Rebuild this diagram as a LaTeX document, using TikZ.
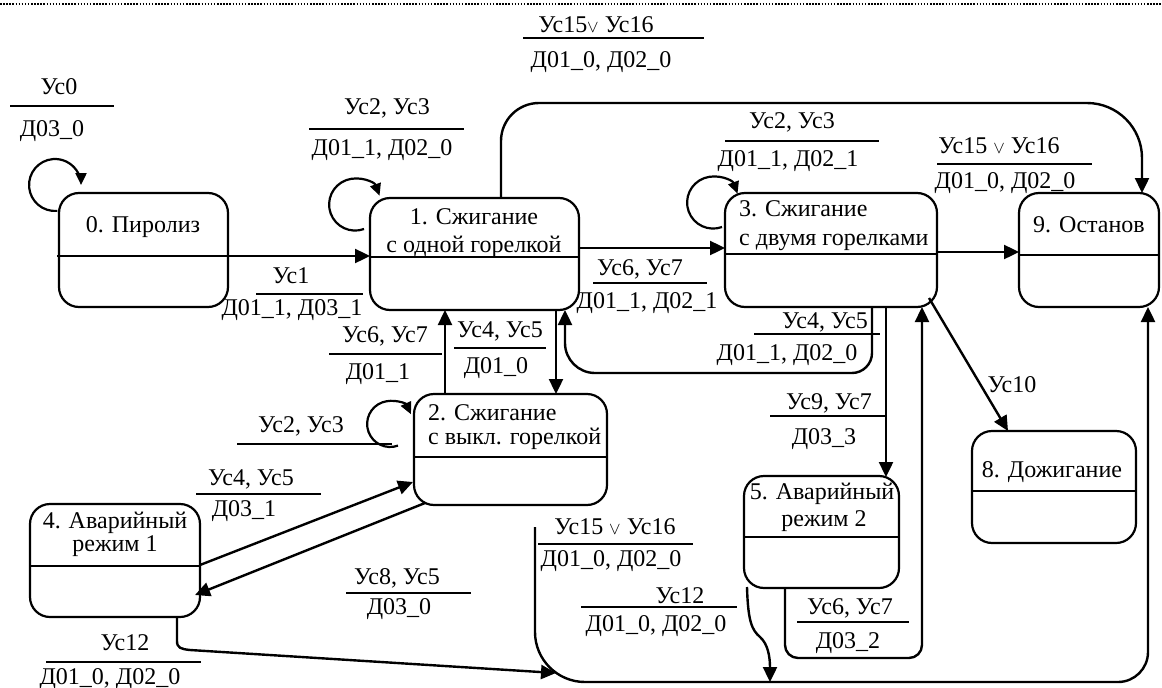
\documentclass[tikz,border=0pt]{standalone}
\usepackage{fontspec}
\setmainfont{Liberation Serif}
\usetikzlibrary{arrows.meta,calc}
\newcommand{\myor}{{\fontsize{19}{19}\selectfont$\vee$}}
\begin{document}
\begin{tikzpicture}[x=1pt,y=-1pt,
  box/.style={draw, line width=2.2pt, rounded corners=20pt, inner sep=0pt, outer sep=0pt},
  div/.style={line width=2.2pt},
  con/.style={line width=2.4pt, -{Triangle[length=15pt,width=14pt]}},
  lp/.style={line width=2.2pt, -{Triangle[length=12pt,width=11pt]}},
  rule/.style={line width=1.3pt},
  lab/.style={inner sep=0pt, anchor=base, font=\fontsize{24}{28}\selectfont},
  labw/.style={lab, anchor=base west}]
\useasboundingbox (0,0) rectangle (1162,688);
\draw[line width=1.5pt, dash pattern=on 1.5pt off 1.6pt] (0,4) -- (1162,4);

% states
\node[box, minimum width=169pt, minimum height=114pt] (n0) at (143.5,250) {};
\node[box, minimum width=209pt, minimum height=112pt] (n1) at (474.5,254) {};
\node[box, minimum width=193pt, minimum height=111pt] (n2) at (510.5,449.5) {};
\node[box, minimum width=212pt, minimum height=114pt] (n3) at (831,250) {};
\node[box, minimum width=170pt, minimum height=113pt] (n4) at (115,560.5) {};
\node[box, minimum width=155pt, minimum height=112pt] (n5) at (821.5,532) {};
\node[box, minimum width=164pt, minimum height=112pt] (n8) at (1054,487) {};
\node[box, minimum width=140pt, minimum height=114pt] (n9) at (1089,250) {};

% dividers
\draw[div] ($(n0.north west)+(-2,63)$) -- ($(n0.north east)+(0,63)$);
\draw[div] ($(n1.north west)+(0,59)$) -- ($(n1.north east)+(0,59)$);
\draw[div] ($(n2.north west)+(0,63)$) -- ($(n2.north east)+(0,63)$);
\draw[div] ($(n3.north west)+(0,61)$) -- ($(n3.north east)+(0,61)$);
\draw[div] ($(n4.north west)+(-1,62)$) -- ($(n4.north east)+(0,62)$);
\draw[div] ($(n5.north west)+(0,61)$) -- ($(n5.north east)+(0,61)$);
\draw[div] ($(n8.north west)+(0,60)$) -- ($(n8.north east)+(0,60)$);
\draw[div] ($(n9.north west)+(0,62)$) -- ($(n9.north east)+(0,62)$);

% state texts
\node[lab] (t0) at (143,232) {0. Пиролиз};
\node[lab] (t1a) at (474,224) {1. Сжигание};
\node[lab] (t1b) at (474,252) {с одной горелкой};
\node[labw] (t2a) at (428,420) {2. Сжигание};
\node[labw] (t2b) at (428,444) {с выкл. горелкой};
\node[labw] (t3a) at (739,216) {3. Сжигание};
\node[labw] (t3b) at (739,245) {с двумя горелками};
\node[lab] (t4a) at (115,528) {4. Аварийный};
\node[lab] (t4b) at (115,551) {режим 1};
\node[lab] (t5a) at (822,499) {5. Аварийный};
\node[lab] (t5b) at (824,526) {режим 2};
\node[lab] (t8) at (1052,477) {8. Дожигание};
\node[lab] (t9) at (1089,232) {9. Останов};

% self loops
\draw[lp] ($(n0.north west)+(-1.7,17.9)$) arc[start angle=85,end angle=360,radius=26];
\draw[lp] ($(n1.north west)+(-6,31)$) arc[start angle=70,end angle=340,radius=26];
\draw[lp] ($(n3.north west)+(-3,34)$) arc[start angle=70,end angle=340,radius=26];
\draw[lp] ($(n2.north west)+(-16,51.6)$) arc[start angle=70,end angle=335,radius=23];

% straight transitions
\draw[con] ($(n0.north east)+(0,63)$) -- ($(n1.north west)+(0,58)$);
\draw[con] ($(n1.north east)+(0,50)$) -- ($(n3.north west)+(0,55)$);
\draw[con] ($(n3.north east)+(0,59)$) -- ($(n9.north west)+(0,59)$);
\draw[con] ($(n2.north west)+(31,0)$) -- ($(n1.south west)+(75,0)$);
\draw[con] ($(n1.south west)+(186,0)$) -- ($(n2.north west)+(142,0)$);
\draw[con] ($(n3.south west)+(161,0)$) -- ($(n5.north west)+(142,1)$);
\draw[con] ($(n3.south east)+(-8,-9)$) -- ($(n8.north west)+(36,0)$);
\draw[con] ($(n4.north east)+(0,61)$) -- ($(n2.north west)+(-1,88)$);
\draw[con] ($(n2.south west)+(11,-2)$) -- ($(n4.north east)+(-5,91)$);

% 1 -> 9 over the top
\draw[con] ($(n1.north west)+(131,0)$) -- ++(0,-57)
  arc[start angle=180,end angle=270,radius=38]
  -- ($(n9.north west)+(68,-90)$)
  arc[start angle=270,end angle=360,radius=55]
  -- ($(n9.north west)+(123,0)$);

% 3 -> 1 below
\draw[con] ($(n3.south west)+(147,0)$) -- ++(0,46)
  arc[start angle=0,end angle=90,radius=20]
  -- ($(n1.south west)+(225,63)$)
  arc[start angle=90,end angle=180,radius=30]
  -- ($(n1.south west)+(195,0)$);

% 5 -> 3
\draw[con] ($(n5.south west)+(41,0)$) -- ++(0,57)
  arc[start angle=180,end angle=90,radius=13]
  -- ++(111,0)
  arc[start angle=90,end angle=0,radius=13]
  -- ($(n3.south west)+(197,0)$);

% common path to 9
\coordinate (bs) at (535,527);
\coordinate (b4) at ($(bs)+(21,146)$);
\coordinate (b5) at ($(bs)+(235,155)$);
\draw[con] (bs) -- ++(0,105)
  arc[start angle=180,end angle=90,radius=50]
  -- ++(533,0)
  arc[start angle=90,end angle=0,radius=30]
  -- ($(n9.south west)+(129,0)$);
\draw[con] ($(n4.south west)+(147,0)$) -- ++(0,24)
  .. controls ++(0,7) and ++(-9,-1) .. ++(13,9) -- (b4);
\draw[con] ($(n5.south west)+(3,-1)$) .. controls ++(1,35) and ++(-8,-7) .. ++(13,50)
  .. controls ++(8,7) and ++(0,-25) .. (b5);

% labels
\node[lab] (a0) at (59,94) {Ус0};
\draw[rule] (10,106) -- (114,106);
\node[lab] (b0) at (52,136) {Д03\_0};

\node[lab] (a1) at (387,114) {Ус2, Ус3};
\draw[rule] (309,129) -- (464,129);
\node[lab] (b1) at (382,155) {Д01\_1, Д02\_0};

\node[lab] (a2) at (596,32) {Ус15\myor\ Ус16};
\draw[rule] (523,38) -- (704,38);
\node[lab] (b2) at (601,67) {Д01\_0, Д02\_0};

\node[lab] (a3) at (291,283) {Ус1};
\draw[rule] (256,294) -- (363,294);
\node[lab] (b3) at (292,315) {Д01\_1, Д03\_1};

\node[lab] (a4) at (640,275) {Ус6, Ус7};
\draw[rule] (593,283) -- (707,283);
\node[lab] (b4l) at (647,308) {Д01\_1, Д02\_1};

\node[lab] (a5) at (792,128) {Ус2, Ус3};
\draw[rule] (725,141) -- (879,141);
\node[lab] (b5l) at (788,166) {Д01\_1, Д02\_1};

\node[lab] (a6) at (999,153) {Ус15 \myor\ Ус16};
\draw[rule] (937,164) -- (1092,164);
\node[lab] (b6) at (1005,188) {Д01\_0, Д02\_0};

\node[lab] (a7) at (385,342) {Ус6, Ус7};
\draw[rule] (329,354) -- (442,354);
\node[lab] (b7) at (378,379) {Д01\_1};

\node[lab] (a8) at (500,337) {Ус4, Ус5};
\draw[rule] (454,348) -- (546,348);
\node[lab] (b8) at (496,373) {Д01\_0};

\node[lab] (a9) at (825,328) {Ус4, Ус5};
\draw[rule] (754,334) -- (880,334);
\node[lab] (b9) at (787,360) {Д01\_1, Д02\_0};

\node[lab] (a10) at (829,409) {Ус9, Ус7};
\draw[rule] (770,416) -- (885,416);
\node[lab] (b10) at (824,444) {Д03\_3};

\node[lab] (a11) at (1012,392) {Ус10};

\node[lab] (a12) at (301,432) {Ус2, Ус3};
\draw[rule] (237,444) -- (392,444);

\node[lab] (a13) at (251,485) {Ус4, Ус5};
\draw[rule] (196,494) -- (321,494);
\node[lab] (b13) at (244,516) {Д03\_1};

\node[lab] (a14) at (397,584) {Ус8, Ус5};
\draw[rule] (346,593) -- (471,593);
\node[lab] (b14) at (399,614) {Д03\_0};

\node[lab] (a15) at (125,650) {Ус12};
\draw[rule] (46,662) -- (201,662);
\node[lab] (b15) at (110,684) {Д01\_0, Д02\_0};

\node[lab] (a16) at (615,534) {Ус15 \myor\ Ус16};
\draw[rule] (538,544) -- (693,544);
\node[lab] (b16) at (611,566) {Д01\_0, Д02\_0};

\node[lab] (a17) at (680,603) {Ус12};
\draw[rule] (581,607) -- (737,607);
\node[lab] (b17) at (656,631) {Д01\_0, Д02\_0};

\node[lab] (a18) at (850,614) {Ус6, Ус7};
\draw[rule] (797,622) -- (909,622);
\node[lab] (b18) at (848,648) {Д03\_2};
\end{tikzpicture}
\end{document}
